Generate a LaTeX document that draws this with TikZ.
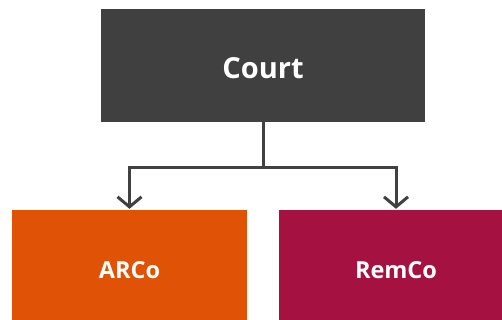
\documentclass[tikz,border=0pt]{standalone}
\usepackage{fontspec}
\setmainfont{Open Sans}
\usetikzlibrary{arrows.meta}
\definecolor{courtgray}{HTML}{404040}
\definecolor{arcoorange}{HTML}{E05206}
\definecolor{remcored}{HTML}{A51140}
\tikzset{
  box/.style={rectangle, inner sep=0pt, text=white, text depth=0pt},
  conn/.style={draw=courtgray, line width=3pt},
  tipconn/.style={conn, -{Straight Barb[length=10pt, width=24pt, line cap=butt]}, shorten >=1pt}
}
\begin{document}
\begin{tikzpicture}[x=1pt, y=-1pt]
\useasboundingbox (0,0) rectangle (502,320);
\clip (0,0) rectangle (502,320);
\node[box, fill=courtgray, minimum width=324pt, minimum height=113pt, text height=26pt, font=\bfseries\fontsize{29}{34}\selectfont] (court) at (263,65.5) {Court};
\node[box, fill=arcoorange, minimum width=235pt, minimum height=119pt, text height=17pt, font=\bfseries\fontsize{23.5}{28}\selectfont] (arco) at (129.5,269.5) {ARCo};
\node[box, fill=remcored, minimum width=234pt, minimum height=119pt, text height=17pt, font=\bfseries\fontsize{23.5}{28}\selectfont] (remco) at (396,269.5) {RemCo};
\coordinate (split) at (263,168);
\draw[conn] (court.south) -- (split);
\draw[tipconn] (split) -| (arco.north);
\draw[tipconn] (split) -| (remco.north);
\end{tikzpicture}
\end{document}
